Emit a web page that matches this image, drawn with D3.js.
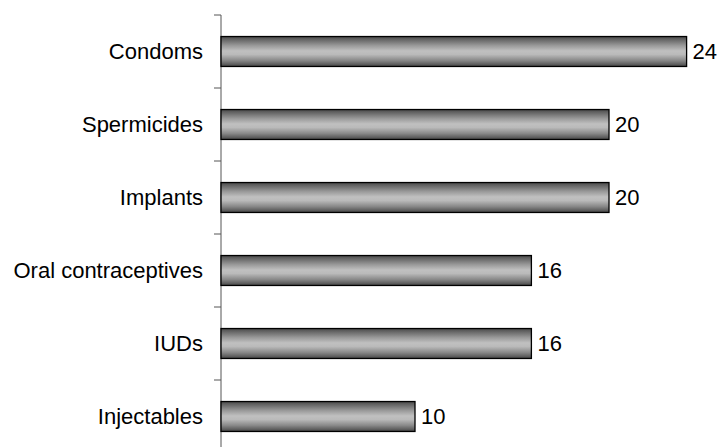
<!DOCTYPE html>
<html>
<head>
<meta charset="utf-8">
<script src="https://cdn.jsdelivr.net/npm/d3@7"></script>
<style>
  html, body { margin: 0; padding: 0; background: #fff; }
  svg { display: block; }
</style>
</head>
<body>
<svg id="chart" width="719" height="447"></svg>
<script>
const categories = ["Condoms", "Spermicides", "Implants", "Oral contraceptives", "IUDs", "Injectables"];
const values = [24, 20, 20, 16, 16, 10];

const svg = d3.select("#chart");
const x0 = 221;
const x = d3.scaleLinear().domain([0, 30]).range([x0, x0 + 30 * 19.4]);
const y = d3.scaleBand().domain(categories).range([15, 453]).paddingInner(0.59).paddingOuter(0.295);

const defs = svg.append("defs");
const grad = defs.append("linearGradient").attr("id", "barGrad")
  .attr("x1", 0).attr("y1", 0).attr("x2", 0).attr("y2", 1);
[[0, "#4a4a4a"], [0.12, "#6a6a6a"], [0.3, "#999"], [0.48, "#c0c0c0"], [0.6, "#bababa"], [0.8, "#888"], [1, "#474747"]]
  .forEach(([o, c]) => grad.append("stop").attr("offset", o).attr("stop-color", c));

// axis line with ticks at band boundaries
const step = y.step();
const bounds = d3.range(categories.length + 1).map(i => 15 + i * step);
svg.append("line").attr("x1", x0).attr("x2", x0).attr("y1", 15).attr("y2", 453)
  .attr("stroke", "#555").attr("stroke-width", 1);
svg.selectAll("line.tick").data(bounds).join("line").attr("class", "tick")
  .attr("x1", x0 - 7).attr("x2", x0).attr("y1", d => d).attr("y2", d => d)
  .attr("stroke", "#555").attr("stroke-width", 1);

// bars
svg.selectAll("rect.bar").data(values).join("rect").attr("class", "bar")
  .attr("x", x(0))
  .attr("y", (d, i) => y(categories[i]))
  .attr("width", d => x(d) - x(0))
  .attr("height", y.bandwidth())
  .attr("fill", "url(#barGrad)")
  .attr("stroke", "#000").attr("stroke-width", 1.3);

// category labels
svg.selectAll("text.cat").data(categories).join("text").attr("class", "cat")
  .attr("x", x0 - 18)
  .attr("y", d => y(d) + y.bandwidth() / 2)
  .attr("dy", "0.35em")
  .attr("text-anchor", "end")
  .attr("font-family", "Liberation Sans, Arial, sans-serif")
  .attr("font-size", 22)
  .attr("fill", "#000")
  .text(d => d);

// value labels
svg.selectAll("text.val").data(values).join("text").attr("class", "val")
  .attr("x", d => x(d) + 6)
  .attr("y", (d, i) => y(categories[i]) + y.bandwidth() / 2)
  .attr("dy", "0.35em")
  .attr("font-family", "Liberation Sans, Arial, sans-serif")
  .attr("font-size", 22)
  .attr("fill", "#000")
  .text(d => d);
</script>
</body>
</html>
